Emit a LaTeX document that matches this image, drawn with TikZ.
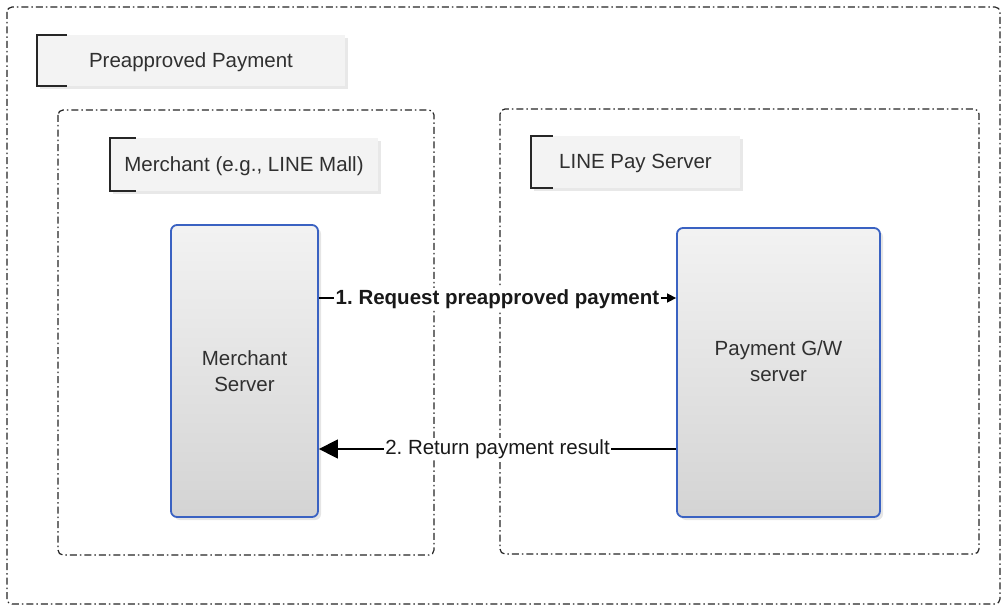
\documentclass[tikz,border=0pt]{standalone}
\usepackage{fontspec}
\setmainfont{Liberation Sans}
\usetikzlibrary{arrows.meta,shadows}
\definecolor{boxblue}{HTML}{3A62C2}
\definecolor{labelfill}{HTML}{F3F3F3}
\definecolor{txtgray}{HTML}{303030}
\begin{document}
\frenchspacing
\begin{tikzpicture}[x=1pt,y=-1pt,
  grp/.style={draw=black!85, line width=1.2pt, rounded corners=5pt,
    dash pattern=on 7pt off 3pt on 1.5pt off 3pt},
  titlebox/.style={fill=labelfill, draw=none, text=txtgray,
    font=\fontsize{20.5}{26}\selectfont, text depth=1pt,
    drop shadow={shadow xshift=3pt,shadow yshift=-3pt,opacity=0.18}},
  bracket/.style={draw=black!85, line width=1.6pt},
  srv/.style={draw=boxblue, line width=1.8pt, rounded corners=6pt,
    top color=white!95!black, bottom color=black!17,
    drop shadow={shadow xshift=3pt,shadow yshift=-3pt,opacity=0.2}},
  srvtext/.style={align=center, text=txtgray, font=\fontsize{20.5}{26}\selectfont},
  conn/.style={draw=black, line width=1.5pt},
  connlabel/.style={fill=white, inner sep=1.5pt, text=black!90,
    font=\fontsize{20.5}{26}\selectfont}
]
\useasboundingbox (0,0) rectangle (1003,607);
\fill[white] (0,0) rectangle (1003,607);

% group frames
\draw[grp] (7,7) rectangle (1000,604);
\draw[grp] (58,110) rectangle (434,555);
\draw[grp] (500,109) rectangle (979,554);

% title boxes
\node[titlebox, minimum width=308pt, minimum height=51pt] (t1) at (191,60.5) {Preapproved Payment};
\draw[bracket] ([xshift=30pt]t1.north west) -- (t1.north west) -- (t1.south west) -- ([xshift=30pt]t1.south west);

\node[titlebox, minimum width=268pt, minimum height=53pt] (t2) at (244,164.5) {Merchant (e.g., LINE Mall)};
\draw[bracket] ([xshift=26pt]t2.north west) -- (t2.north west) -- (t2.south west) -- ([xshift=26pt]t2.south west);

\node[titlebox, minimum width=209pt, minimum height=52pt] (t3) at (635.5,162) {LINE Pay Server};
\draw[bracket] ([xshift=22pt]t3.north west) -- (t3.north west) -- (t3.south west) -- ([xshift=22pt]t3.south west);

% servers
\node[srv, minimum width=147pt, minimum height=292pt] (ms) at (244.5,371) {};
\node[srvtext] (mst) at (ms.center) {Merchant\\Server};

\node[srv, minimum width=203pt, minimum height=289pt] (pg) at (778.5,372.5) {};
\node[srvtext] (pgt) at ([yshift=11pt]pg.center) {Payment G/W\\server};

% connectors
\coordinate (c1) at ([yshift=73pt]ms.east);
\coordinate (c2) at ([yshift=-76.5pt]pg.west);
\draw[conn, -{Triangle[length=9pt,width=9pt]}] (c1) -- (c1 -| pg.west)
  node[connlabel, midway, yshift=-1pt, font=\fontsize{20.5}{26}\selectfont\bfseries] {1. Request preapproved payment};
\draw[conn, -{Triangle[length=19pt,width=19pt]}] (c2) -- (c2 -| ms.east)
  node[connlabel, midway] {2. Return payment result};
\end{tikzpicture}
\end{document}
